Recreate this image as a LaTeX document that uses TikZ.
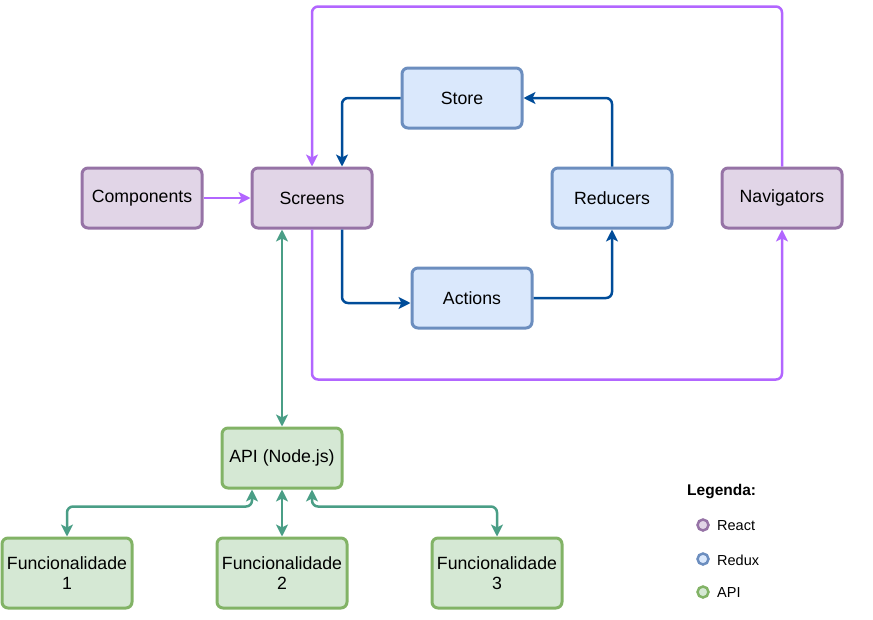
\documentclass[tikz,border=0pt]{standalone}
\usepackage{fontspec}
\setmainfont{Liberation Sans}
\usetikzlibrary{arrows.meta,calc}
\definecolor{rfill}{HTML}{E1D5E7}\definecolor{rdraw}{HTML}{9673A6}
\definecolor{xfill}{HTML}{DAE8FC}\definecolor{xdraw}{HTML}{6C8EBF}
\definecolor{afill}{HTML}{D5E8D4}\definecolor{adraw}{HTML}{82B366}
\definecolor{purp}{HTML}{B266FF}\definecolor{dblue}{HTML}{004C99}
\definecolor{teal}{HTML}{4A9E86}
\tikzset{
  box/.style={rectangle,rounded corners=6pt,line width=3pt,minimum width=120pt,minimum height=60pt,inner sep=0pt,align=center,font=\fontsize{17.7}{20.5}\selectfont},
  react/.style={box,fill=rfill,draw=rdraw},
  redux/.style={box,fill=xfill,draw=xdraw},
  apibox/.style={box,fill=afill,draw=adraw},
  funcbox/.style={apibox,minimum width=130pt,minimum height=70pt},
  tip/.style={-{Stealth[length=12pt,width=12pt,inset=3pt]}},
  conn/.style={line width=2.5pt,rounded corners=6pt},
  pconn/.style={conn,draw=purp,tip},
  bconn/.style={conn,draw=dblue,tip},
  gconn/.style={conn,draw=teal,{Stealth[length=12pt,width=12pt,inset=3pt]}-{Stealth[length=12pt,width=12pt,inset=3pt]}},
  legdot/.style={circle,line width=2.5pt,minimum size=11pt,inner sep=0pt},
  legtext/.style={anchor=west,font=\fontsize{14.5}{16}\selectfont,inner sep=0pt}
}
\begin{document}
\begin{tikzpicture}[x=1pt,y=-1pt]
\useasboundingbox (0,0) rectangle (873,619);
\node[react] (components) at (142,198) {Components};
\node[react] (screens) at (312,198) {Screens};
\node[redux] (store) at (462,98) {Store};
\node[redux] (reducers) at (612,198) {Reducers};
\node[react] (navigators) at (782,198) {Navigators};
\node[redux] (actions) at (472,298) {Actions};
\node[apibox] (api) at (282,458) {API (Node.js)};
\node[funcbox] (f1) at (67,573) {Funcionalidade\\1};
\node[funcbox] (f2) at (282,573) {Funcionalidade\\2};
\node[funcbox] (f3) at (497,573) {Funcionalidade\\3};

\draw[pconn] (components.east) -- (screens.west);
\draw[bconn] (store.west) -| ([xshift=30pt]screens.north);
\draw[bconn] ([xshift=30pt]screens.south) |- ([yshift=-5pt]actions.west);
\draw[bconn] (actions.east) -| (reducers.south);
\draw[bconn] (reducers.north) |- (store.east);
\draw[pconn] (navigators.north) -- ++(0,-160) -| (screens.north);
\draw[pconn] (screens.south) -- ++(0,150) -| (navigators.south);
\draw[gconn] ([xshift=-30pt]screens.south) -- (api.north);
\draw[gconn] (f1.north) -- ++(0,-30) -| ([xshift=-30pt]api.south);
\draw[gconn] (f2.north) -- (api.south);
\draw[gconn] (f3.north) -- ++(0,-30) -| ([xshift=30pt]api.south);

\node[anchor=west,inner sep=0pt,font=\fontsize{15.5}{18}\selectfont\bfseries] (leg) at (687,492) {Legenda:};
\node[legdot,draw=rdraw,fill=rfill] (d1) at (703,525) {};
\node[legdot,draw=xdraw,fill=xfill] (d2) at (703,559) {};
\node[legdot,draw=adraw,fill=afill] (d3) at (703,592) {};
\node[legtext] (t1) at (717,526) {React};
\node[legtext] (t2) at (717,560) {Redux};
\node[legtext] (t3) at (717,593) {API};
\end{tikzpicture}
\end{document}
